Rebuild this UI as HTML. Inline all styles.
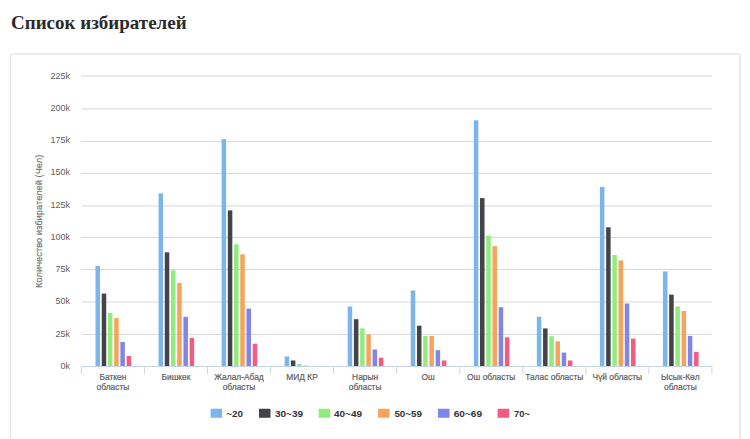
<!DOCTYPE html>
<html><head><meta charset="utf-8"><style>
html,body{margin:0;padding:0;background:#fff;width:750px;height:439px;overflow:hidden;position:relative}
h1{position:absolute;left:11px;top:13px;margin:0;font-family:"Liberation Serif",serif;font-weight:bold;font-size:19px;line-height:19px;color:#2a2a2a;white-space:nowrap}
svg{position:absolute;left:0;top:0}
.yl{font-family:"Liberation Sans",sans-serif;font-size:9px;fill:#606060}
.xl{font-family:"Liberation Sans",sans-serif;font-size:8.4px;fill:#606060;stroke:#606060;stroke-width:0.2px}
.yt{font-family:"Liberation Sans",sans-serif;font-size:9.2px;fill:#707070;stroke:#707070;stroke-width:0.15px}
.lg{font-family:"Liberation Sans",sans-serif;font-size:9.6px;font-weight:bold;fill:#333}
</style></head><body>
<h1>Список избирателей</h1>
<svg width="750" height="439" viewBox="0 0 750 439">
<rect x="10.4" y="53.9" width="729.7" height="420" rx="2" fill="none" stroke="#e9e9e9" stroke-width="1.5"/>
<rect x="739.4" y="56" width="1.4" height="400" fill="#e8e8f0"/>
<rect x="81.40" y="333.90" width="630.60" height="1" fill="#d8d8d8"/>
<rect x="81.40" y="301.45" width="630.60" height="1" fill="#d8d8d8"/>
<rect x="81.40" y="269.00" width="630.60" height="1" fill="#d8d8d8"/>
<rect x="81.40" y="236.90" width="630.60" height="1" fill="#d8d8d8"/>
<rect x="81.40" y="205.40" width="630.60" height="1" fill="#d8d8d8"/>
<rect x="81.40" y="172.90" width="630.60" height="1" fill="#d8d8d8"/>
<rect x="81.40" y="141.00" width="630.60" height="1" fill="#d8d8d8"/>
<rect x="81.40" y="108.40" width="630.60" height="1" fill="#d8d8d8"/>
<rect x="81.40" y="75.40" width="630.60" height="1" fill="#d8d8d8"/>
<rect x="95.50" y="265.90" width="4.5" height="100.40" fill="#7cb5ec"/>
<rect x="101.72" y="293.60" width="4.5" height="72.70" fill="#434348"/>
<rect x="107.94" y="313.00" width="4.5" height="53.30" fill="#90ed7d"/>
<rect x="114.16" y="318.10" width="4.5" height="48.20" fill="#f7a35c"/>
<rect x="120.38" y="342.00" width="4.5" height="24.30" fill="#8085e9"/>
<rect x="126.60" y="356.00" width="4.5" height="10.30" fill="#f15c80"/>
<rect x="158.55" y="193.40" width="4.5" height="172.90" fill="#7cb5ec"/>
<rect x="164.77" y="252.30" width="4.5" height="114.00" fill="#434348"/>
<rect x="170.99" y="270.30" width="4.5" height="96.00" fill="#90ed7d"/>
<rect x="177.21" y="283.00" width="4.5" height="83.30" fill="#f7a35c"/>
<rect x="183.43" y="316.80" width="4.5" height="49.50" fill="#8085e9"/>
<rect x="189.65" y="337.90" width="4.5" height="28.40" fill="#f15c80"/>
<rect x="221.60" y="139.10" width="4.5" height="227.20" fill="#7cb5ec"/>
<rect x="227.82" y="210.40" width="4.5" height="155.90" fill="#434348"/>
<rect x="234.04" y="244.30" width="4.5" height="122.00" fill="#90ed7d"/>
<rect x="240.26" y="254.30" width="4.5" height="112.00" fill="#f7a35c"/>
<rect x="246.48" y="308.60" width="4.5" height="57.70" fill="#8085e9"/>
<rect x="252.70" y="343.70" width="4.5" height="22.60" fill="#f15c80"/>
<rect x="284.65" y="356.40" width="4.5" height="9.90" fill="#7cb5ec"/>
<rect x="290.87" y="360.50" width="4.5" height="5.80" fill="#434348"/>
<rect x="297.09" y="363.90" width="4.5" height="2.40" fill="#90ed7d"/>
<rect x="303.31" y="365.50" width="4.5" height="0.80" fill="#f7a35c"/>
<rect x="347.70" y="306.50" width="4.5" height="59.80" fill="#7cb5ec"/>
<rect x="353.92" y="319.20" width="4.5" height="47.10" fill="#434348"/>
<rect x="360.14" y="328.40" width="4.5" height="37.90" fill="#90ed7d"/>
<rect x="366.36" y="334.50" width="4.5" height="31.80" fill="#f7a35c"/>
<rect x="372.58" y="349.50" width="4.5" height="16.80" fill="#8085e9"/>
<rect x="378.80" y="357.70" width="4.5" height="8.60" fill="#f15c80"/>
<rect x="410.75" y="290.50" width="4.5" height="75.80" fill="#7cb5ec"/>
<rect x="416.97" y="325.70" width="4.5" height="40.60" fill="#434348"/>
<rect x="423.19" y="335.90" width="4.5" height="30.40" fill="#90ed7d"/>
<rect x="429.41" y="335.90" width="4.5" height="30.40" fill="#f7a35c"/>
<rect x="435.63" y="350.20" width="4.5" height="16.10" fill="#8085e9"/>
<rect x="441.85" y="360.50" width="4.5" height="5.80" fill="#f15c80"/>
<rect x="473.80" y="120.30" width="4.5" height="246.00" fill="#7cb5ec"/>
<rect x="480.02" y="198.10" width="4.5" height="168.20" fill="#434348"/>
<rect x="486.24" y="235.60" width="4.5" height="130.70" fill="#90ed7d"/>
<rect x="492.46" y="246.20" width="4.5" height="120.10" fill="#f7a35c"/>
<rect x="498.68" y="307.20" width="4.5" height="59.10" fill="#8085e9"/>
<rect x="504.90" y="337.30" width="4.5" height="29.00" fill="#f15c80"/>
<rect x="536.85" y="316.80" width="4.5" height="49.50" fill="#7cb5ec"/>
<rect x="543.07" y="328.40" width="4.5" height="37.90" fill="#434348"/>
<rect x="549.29" y="336.20" width="4.5" height="30.10" fill="#90ed7d"/>
<rect x="555.51" y="341.40" width="4.5" height="24.90" fill="#f7a35c"/>
<rect x="561.73" y="352.60" width="4.5" height="13.70" fill="#8085e9"/>
<rect x="567.95" y="360.50" width="4.5" height="5.80" fill="#f15c80"/>
<rect x="599.90" y="186.90" width="4.5" height="179.40" fill="#7cb5ec"/>
<rect x="606.12" y="227.30" width="4.5" height="139.00" fill="#434348"/>
<rect x="612.34" y="255.00" width="4.5" height="111.30" fill="#90ed7d"/>
<rect x="618.56" y="260.40" width="4.5" height="105.90" fill="#f7a35c"/>
<rect x="624.78" y="303.50" width="4.5" height="62.80" fill="#8085e9"/>
<rect x="631.00" y="338.60" width="4.5" height="27.70" fill="#f15c80"/>
<rect x="662.95" y="271.40" width="4.5" height="94.90" fill="#7cb5ec"/>
<rect x="669.17" y="294.60" width="4.5" height="71.70" fill="#434348"/>
<rect x="675.39" y="306.50" width="4.5" height="59.80" fill="#90ed7d"/>
<rect x="681.61" y="311.00" width="4.5" height="55.30" fill="#f7a35c"/>
<rect x="687.83" y="335.90" width="4.5" height="30.40" fill="#8085e9"/>
<rect x="694.05" y="351.90" width="4.5" height="14.40" fill="#f15c80"/>
<rect x="81.40" y="366.00" width="630.60" height="1" fill="#c6d3e0"/>
<rect x="80.90" y="366.50" width="1" height="7.5" fill="#ccd8e4"/>
<rect x="143.95" y="366.50" width="1" height="7.5" fill="#ccd8e4"/>
<rect x="207.00" y="366.50" width="1" height="7.5" fill="#ccd8e4"/>
<rect x="270.05" y="366.50" width="1" height="7.5" fill="#ccd8e4"/>
<rect x="333.10" y="366.50" width="1" height="7.5" fill="#ccd8e4"/>
<rect x="396.15" y="366.50" width="1" height="7.5" fill="#ccd8e4"/>
<rect x="459.20" y="366.50" width="1" height="7.5" fill="#ccd8e4"/>
<rect x="522.25" y="366.50" width="1" height="7.5" fill="#ccd8e4"/>
<rect x="585.30" y="366.50" width="1" height="7.5" fill="#ccd8e4"/>
<rect x="648.35" y="366.50" width="1" height="7.5" fill="#ccd8e4"/>
<rect x="711.40" y="366.50" width="1" height="7.5" fill="#ccd8e4"/>
<text x="70.1" y="368.78" text-anchor="end" class="yl">0k</text>
<text x="70.1" y="336.56" text-anchor="end" class="yl">25k</text>
<text x="70.1" y="304.34" text-anchor="end" class="yl">50k</text>
<text x="70.1" y="272.12" text-anchor="end" class="yl">75k</text>
<text x="70.1" y="239.90" text-anchor="end" class="yl">100k</text>
<text x="70.1" y="207.68" text-anchor="end" class="yl">125k</text>
<text x="70.1" y="175.46" text-anchor="end" class="yl">150k</text>
<text x="70.1" y="143.24" text-anchor="end" class="yl">175k</text>
<text x="70.1" y="111.02" text-anchor="end" class="yl">200k</text>
<text x="70.1" y="78.80" text-anchor="end" class="yl">225k</text>
<text x="112.93" y="380.20" text-anchor="middle" class="xl">Баткен</text>
<text x="112.93" y="390.40" text-anchor="middle" class="xl">областы</text>
<text x="175.97" y="380.20" text-anchor="middle" class="xl">Бишкек</text>
<text x="239.03" y="380.20" text-anchor="middle" class="xl">Жалал-Абад</text>
<text x="239.03" y="390.40" text-anchor="middle" class="xl">областы</text>
<text x="302.07" y="380.20" text-anchor="middle" class="xl">МИД КР</text>
<text x="365.12" y="380.20" text-anchor="middle" class="xl">Нарын</text>
<text x="365.12" y="390.40" text-anchor="middle" class="xl">областы</text>
<text x="428.17" y="380.20" text-anchor="middle" class="xl">Ош</text>
<text x="491.22" y="380.20" text-anchor="middle" class="xl">Ош областы</text>
<text x="554.27" y="380.20" text-anchor="middle" class="xl">Талас областы</text>
<text x="617.32" y="380.20" text-anchor="middle" class="xl">Чүй областы</text>
<text x="680.37" y="380.20" text-anchor="middle" class="xl">Ысык-Көл</text>
<text x="680.37" y="390.40" text-anchor="middle" class="xl">областы</text>
<text x="0" y="0" transform="translate(42.3,221.3) rotate(-90)" text-anchor="middle" class="yt" textLength="133.2" lengthAdjust="spacingAndGlyphs">Количество избирателей (Чел)</text>
<rect x="210.6" y="408.8" width="11.5" height="8.9" rx="0.3" fill="#7cb5ec"/>
<text x="226.3" y="417.1" class="lg" textLength="16.7" lengthAdjust="spacingAndGlyphs">~20</text>
<rect x="259.0" y="408.8" width="11.5" height="8.9" rx="0.3" fill="#434348"/>
<text x="275.0" y="417.1" class="lg" textLength="28.0" lengthAdjust="spacingAndGlyphs">30~39</text>
<rect x="318.7" y="408.8" width="11.5" height="8.9" rx="0.3" fill="#90ed7d"/>
<text x="334.0" y="417.1" class="lg" textLength="28.0" lengthAdjust="spacingAndGlyphs">40~49</text>
<rect x="378.0" y="408.8" width="11.5" height="8.9" rx="0.3" fill="#f7a35c"/>
<text x="394.4" y="417.1" class="lg" textLength="27.6" lengthAdjust="spacingAndGlyphs">50~59</text>
<rect x="438.0" y="408.8" width="11.5" height="8.9" rx="0.3" fill="#8085e9"/>
<text x="453.7" y="417.1" class="lg" textLength="28.3" lengthAdjust="spacingAndGlyphs">60~69</text>
<rect x="497.6" y="408.8" width="11.5" height="8.9" rx="0.3" fill="#f15c80"/>
<text x="514.0" y="417.1" class="lg" textLength="16.0" lengthAdjust="spacingAndGlyphs">70~</text>
</svg>
</body></html>
